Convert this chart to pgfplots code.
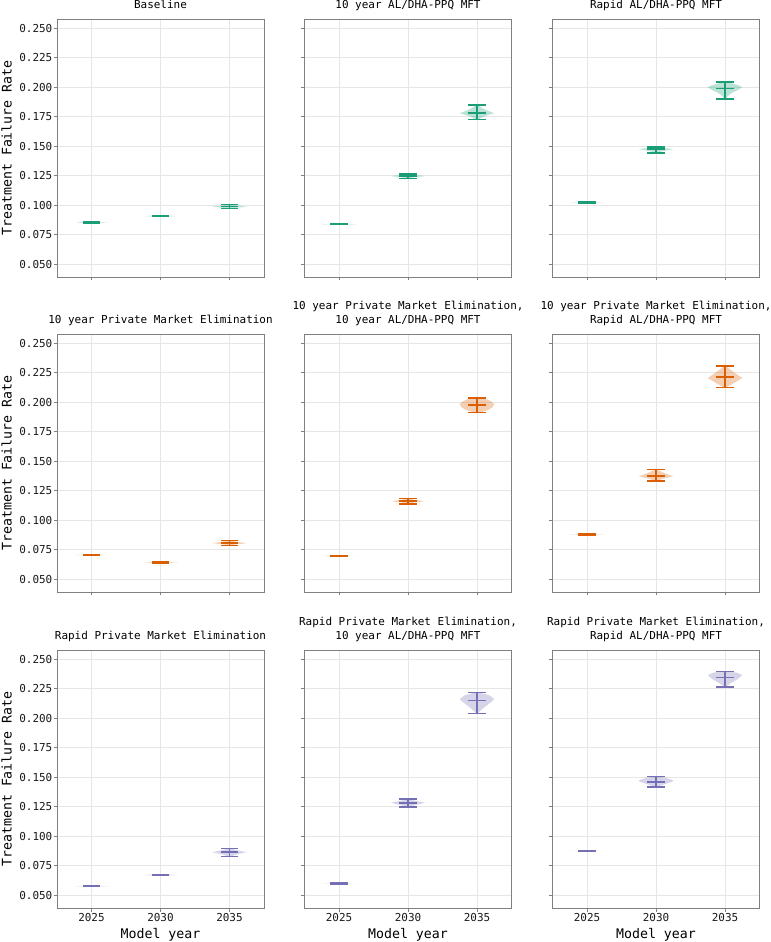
\documentclass[border=0pt]{standalone}
\usepackage{fontspec}
\setmainfont{DejaVu Sans Mono}
\usepackage{pgfplots}
\pgfplotsset{compat=1.18}
\definecolor{cgreen}{HTML}{1B9E77}
\definecolor{corange}{HTML}{D95F02}
\definecolor{cpurple}{HTML}{7570B3}
\definecolor{frame}{HTML}{808080}
\definecolor{gridc}{HTML}{E6E6E6}
\newcommand{\tfont}{\fontsize{11}{13}\selectfont}
\newcommand{\lfont}{\fontsize{13.3}{16}\selectfont}
% violin body from a profile table (y, half-width w)
\newcommand{\vbody}[3]{%
 \addplot[fill=#1, fill opacity=0.3, draw=none, forget plot] table[x expr=#2-\thisrow{w}, y=y, row sep=\\] {#3};
 \addplot[fill=#1, fill opacity=0.3, draw=none, forget plot] table[x expr=#2+\thisrow{w}, y=y, row sep=\\] {#3};
}
% extrema bar and centre line: colour, position, min, centre, max
\newcommand{\vlines}[5]{%
 \addplot[#1, line width=1.5bp, forget plot] coordinates {(#2,#3) (#2,#5)};
 \addplot[#1, only marks, mark=-, mark size=8.6bp, mark options={line width=1.5bp}, forget plot] coordinates {(#2,#3) (#2,#4) (#2,#5)};
}
\pgfplotsset{
 tfr/.style={
  scale only axis, width=207bp, height=258bp,
  xmin=2022.5, xmax=2037.5, ymin=0.0392, ymax=0.2579,
  xtick={2025,2030,2035},
  ytick={0.05,0.075,0.1,0.125,0.15,0.175,0.2,0.225,0.25},
  grid=major, grid style={line width=0.8bp, color=gridc},
  axis line style={line width=0.9bp, color=frame},
  tick style={line width=0.8bp, color=frame},
  tick align=outside, major tick length=3.5bp, tick pos=left,
  tick label style={font=\tfont, color=black!90},
  yticklabel style={anchor=east, inner sep=0pt, xshift=-1bp},
  xticklabel style={anchor=north, inner sep=0pt, yshift=-1.5bp},
  every axis title shift=0pt,
  title style={font=\tfont, at={(0.5,1)}, anchor=base, yshift=10.5bp, inner sep=0pt},
  every axis y label/.style={at={(axis description cs:-0.2188,0.5)}, rotate=90, anchor=base, font=\lfont},
  every axis x label/.style={at={(axis description cs:0.5,-0.1163)}, anchor=base, font=\lfont},
  clip=false,
 },
 ylab/.style={ylabel={Treatment Failure Rate}, yticklabels={0.050,0.075,0.100,0.125,0.150,0.175,0.200,0.225,0.250}},
 noylab/.style={yticklabels={}},
 xlab/.style={xlabel={Model year}, xticklabels={2025,2030,2035}},
 noxlab/.style={xticklabels={}},
}
\newcommand{\firstline}[1]{\node[font=\tfont, anchor=base, inner sep=0pt] at ([yshift=24bp]rel axis cs:0.5,1) {#1};}
\begin{document}
\begin{tikzpicture}
\useasboundingbox (0,0) rectangle (771bp,942bp);
% ---------------- Row 1 ----------------
\begin{axis}[tfr, ylab, noxlab, at={(57bp,665bp)}, anchor=south west, title={Baseline}]
\vbody{cgreen}{2025}{y w\\ 0.0850 0\\ 0.0853 0.7\\ 0.0855 1.25\\ 0.0857 0.7\\ 0.0860 0\\}
\vbody{cgreen}{2030}{y w\\ 0.0904 0\\ 0.0906 0.7\\ 0.0908 1.25\\ 0.0910 0.7\\ 0.0912 0\\}
\vbody{cgreen}{2035}{y w\\ 0.0972 0\\ 0.0974 0.15\\ 0.0980 0.6\\ 0.0988 1.25\\ 0.0996 0.7\\ 0.1003 0.15\\ 0.1005 0\\}
\vlines{cgreen}{2025}{0.0850}{0.0855}{0.0860}
\vlines{cgreen}{2030}{0.0904}{0.0908}{0.0912}
\vlines{cgreen}{2035}{0.0972}{0.0988}{0.1005}
\end{axis}
\begin{axis}[tfr, noylab, noxlab, at={(304.5bp,665bp)}, anchor=south west, title={10 year AL/DHA-PPQ MFT}]
\vbody{cgreen}{2025}{y w\\ 0.0836 0\\ 0.0838 0.7\\ 0.0839 1.25\\ 0.0840 0.7\\ 0.0842 0\\}
\vbody{cgreen}{2030}{y w\\ 0.1228 0\\ 0.1230 0.15\\ 0.1238 0.5\\ 0.1247 1.25\\ 0.1256 0.5\\ 0.1263 0.15\\ 0.1265 0\\}
\vbody{cgreen}{2035}{y w\\ 0.1725 0\\ 0.1728 0.12\\ 0.1745 0.35\\ 0.1765 0.8\\ 0.1780 1.25\\ 0.1800 0.8\\ 0.1825 0.35\\ 0.1847 0.12\\ 0.1850 0\\}
\vlines{cgreen}{2025}{0.0836}{0.0839}{0.0842}
\vlines{cgreen}{2030}{0.1228}{0.1247}{0.1265}
\vlines{cgreen}{2035}{0.1725}{0.1780}{0.1850}
\end{axis}
\begin{axis}[tfr, noylab, noxlab, at={(552.5bp,665bp)}, anchor=south west, title={Rapid AL/DHA-PPQ MFT}]
\vbody{cgreen}{2025}{y w\\ 0.1020 0\\ 0.1022 0.7\\ 0.1023 1.25\\ 0.1024 0.7\\ 0.1026 0\\}
\vbody{cgreen}{2030}{y w\\ 0.1445 0\\ 0.1448 0.15\\ 0.1460 0.5\\ 0.1475 1.25\\ 0.1485 0.6\\ 0.1493 0.15\\ 0.1495 0\\}
\vbody{cgreen}{2035}{y w\\ 0.1900 0\\ 0.1903 0.06\\ 0.1925 0.2\\ 0.1950 0.45\\ 0.1975 0.9\\ 0.2000 1.25\\ 0.2020 0.9\\ 0.2035 0.4\\ 0.2043 0.12\\ 0.2045 0\\}
\vlines{cgreen}{2025}{0.1020}{0.1023}{0.1026}
\vlines{cgreen}{2030}{0.1445}{0.1475}{0.1495}
\vlines{cgreen}{2035}{0.1900}{0.1988}{0.2045}
\end{axis}
% ---------------- Row 2 ----------------
\begin{axis}[tfr, ylab, noxlab, at={(57bp,350bp)}, anchor=south west, title={10 year Private Market Elimination}]
\vbody{corange}{2025}{y w\\ 0.0703 0\\ 0.0705 0.7\\ 0.0706 1.25\\ 0.0707 0.7\\ 0.0709 0\\}
\vbody{corange}{2030}{y w\\ 0.0637 0\\ 0.0641 0.7\\ 0.0644 1.25\\ 0.0647 0.7\\ 0.0650 0\\}
\vbody{corange}{2035}{y w\\ 0.0786 0\\ 0.0788 0.12\\ 0.0796 0.5\\ 0.0806 1.25\\ 0.0817 0.5\\ 0.0826 0.12\\ 0.0828 0\\}
\vlines{corange}{2025}{0.0703}{0.0706}{0.0709}
\vlines{corange}{2030}{0.0637}{0.0644}{0.0650}
\vlines{corange}{2035}{0.0786}{0.0806}{0.0828}
\end{axis}
\begin{axis}[tfr, noylab, noxlab, at={(304.5bp,350bp)}, anchor=south west, title={10 year AL/DHA-PPQ MFT}]
\firstline{10 year Private Market Elimination,}
\vbody{corange}{2025}{y w\\ 0.0697 0\\ 0.0699 0.7\\ 0.0700 1.25\\ 0.0701 0.7\\ 0.0703 0\\}
\vbody{corange}{2030}{y w\\ 0.1140 0\\ 0.1142 0.12\\ 0.1152 0.5\\ 0.1162 1.25\\ 0.1173 0.5\\ 0.1183 0.12\\ 0.1185 0\\}
\vbody{corange}{2035}{y w\\ 0.1915 0\\ 0.1917 0.3\\ 0.1935 0.8\\ 0.1960 1.15\\ 0.1985 1.25\\ 0.2010 1.0\\ 0.2025 0.7\\ 0.2034 0.3\\ 0.2036 0\\}
\vlines{corange}{2025}{0.0697}{0.0700}{0.0703}
\vlines{corange}{2030}{0.1140}{0.1162}{0.1185}
\vlines{corange}{2035}{0.1915}{0.1977}{0.2036}
\end{axis}
\begin{axis}[tfr, noylab, noxlab, at={(552.5bp,350bp)}, anchor=south west, title={Rapid AL/DHA-PPQ MFT}]
\firstline{10 year Private Market Elimination,}
\vbody{corange}{2025}{y w\\ 0.0875 0\\ 0.0877 0.7\\ 0.0879 1.25\\ 0.0881 0.7\\ 0.0883 0\\}
\vbody{corange}{2030}{y w\\ 0.1332 0\\ 0.1335 0.12\\ 0.1352 0.5\\ 0.1373 1.25\\ 0.1400 0.6\\ 0.1428 0.08\\ 0.1431 0\\}
\vbody{corange}{2035}{y w\\ 0.2124 0\\ 0.2127 0.1\\ 0.2160 0.6\\ 0.2206 1.25\\ 0.2250 0.7\\ 0.2280 0.35\\ 0.2305 0.1\\ 0.2308 0\\}
\vlines{corange}{2025}{0.0875}{0.0879}{0.0883}
\vlines{corange}{2030}{0.1332}{0.1377}{0.1431}
\vlines{corange}{2035}{0.2124}{0.2215}{0.2308}
\end{axis}
% ---------------- Row 3 ----------------
\begin{axis}[tfr, ylab, xlab, at={(57bp,34bp)}, anchor=south west, title={Rapid Private Market Elimination}]
\vbody{cpurple}{2025}{y w\\ 0.0573 0\\ 0.0575 0.7\\ 0.0576 1.25\\ 0.0577 0.7\\ 0.0579 0\\}
\vbody{cpurple}{2030}{y w\\ 0.0666 0\\ 0.0669 0.7\\ 0.0672 1.25\\ 0.0675 0.7\\ 0.0678 0\\}
\vbody{cpurple}{2035}{y w\\ 0.0828 0\\ 0.0830 0.1\\ 0.0846 0.5\\ 0.0865 1.25\\ 0.0880 0.6\\ 0.0896 0.1\\ 0.0898 0\\}
\vlines{cpurple}{2025}{0.0573}{0.0576}{0.0579}
\vlines{cpurple}{2030}{0.0666}{0.0672}{0.0678}
\vlines{cpurple}{2035}{0.0828}{0.0865}{0.0898}
\end{axis}
\begin{axis}[tfr, noylab, xlab, at={(304.5bp,34bp)}, anchor=south west, title={10 year AL/DHA-PPQ MFT}]
\firstline{Rapid Private Market Elimination,}
\vbody{cpurple}{2025}{y w\\ 0.0596 0\\ 0.0598 0.7\\ 0.0599 1.25\\ 0.0600 0.7\\ 0.0602 0\\}
\vbody{cpurple}{2030}{y w\\ 0.1247 0\\ 0.1250 0.12\\ 0.1265 0.55\\ 0.1285 1.25\\ 0.1300 0.6\\ 0.1312 0.12\\ 0.1314 0\\}
\vbody{cpurple}{2035}{y w\\ 0.2039 0\\ 0.2042 0.05\\ 0.2070 0.3\\ 0.2105 0.65\\ 0.2140 1.05\\ 0.2163 1.25\\ 0.2195 0.9\\ 0.2214 0.3\\ 0.2217 0\\}
\vlines{cpurple}{2025}{0.0596}{0.0599}{0.0602}
\vlines{cpurple}{2030}{0.1247}{0.1283}{0.1314}
\vlines{cpurple}{2035}{0.2039}{0.2149}{0.2217}
\end{axis}
\begin{axis}[tfr, noylab, xlab, at={(552.5bp,34bp)}, anchor=south west, title={Rapid AL/DHA-PPQ MFT}]
\firstline{Rapid Private Market Elimination,}
\vbody{cpurple}{2025}{y w\\ 0.0873 0\\ 0.0875 0.7\\ 0.0876 1.25\\ 0.0877 0.7\\ 0.0879 0\\}
\vbody{cpurple}{2030}{y w\\ 0.1417 0\\ 0.1420 0.12\\ 0.1440 0.6\\ 0.1465 1.2\\ 0.1475 1.25\\ 0.1495 0.7\\ 0.1505 0.2\\ 0.1507 0\\}
\vbody{cpurple}{2035}{y w\\ 0.2265 0\\ 0.2268 0.06\\ 0.2300 0.45\\ 0.2335 0.95\\ 0.2367 1.25\\ 0.2385 0.9\\ 0.2396 0.35\\ 0.2398 0\\}
\vlines{cpurple}{2025}{0.0873}{0.0876}{0.0879}
\vlines{cpurple}{2030}{0.1417}{0.1461}{0.1507}
\vlines{cpurple}{2035}{0.2265}{0.2344}{0.2398}
\end{axis}
\end{tikzpicture}
\end{document}
